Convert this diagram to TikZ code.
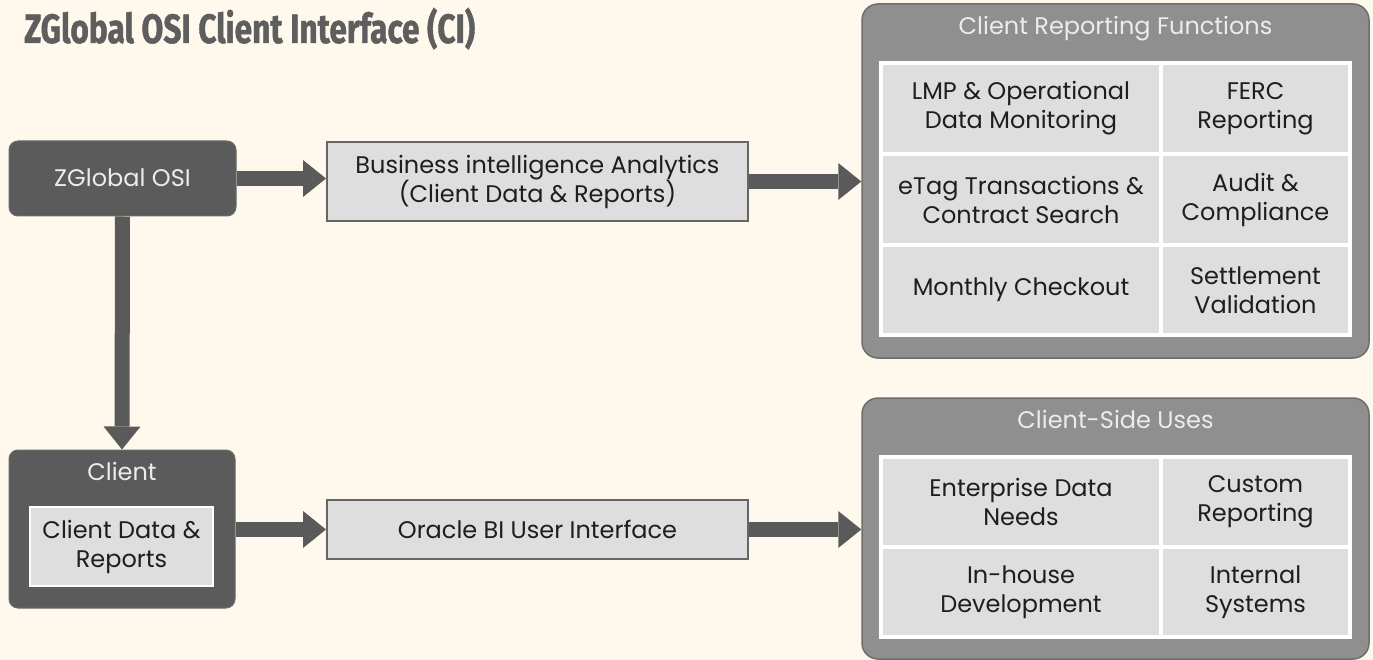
\documentclass[tikz,border=0pt]{standalone}
\usepackage{fontspec}
\setmainfont{Poppins}
\newfontfamily\titlefont[FakeBold=1.2]{Fira Sans}
\usetikzlibrary{arrows.meta,calc}
\definecolor{bg}{HTML}{FFF8ED}
\definecolor{dark}{HTML}{5B5B5B}
\definecolor{darkb}{HTML}{6A6A6A}
\definecolor{mid}{HTML}{8F8F8F}
\definecolor{midb}{HTML}{6E6E6E}
\definecolor{cellc}{HTML}{DEDEDE}
\definecolor{boxb}{HTML}{666666}
\definecolor{textc}{HTML}{1E1E1E}
\definecolor{lighttext}{HTML}{ECECEC}
\definecolor{titlec}{HTML}{5E5E5E}
\definecolor{arrowc}{HTML}{5A5A5A}
\begin{document}
\begin{tikzpicture}[x=1pt,y=-1pt,
  every node/.style={font=\fontsize{24pt}{29pt}\selectfont, inner sep=0pt, align=center},
  darkbox/.style={draw=darkb, fill=dark, rounded corners=9pt, line width=1pt},
  container/.style={draw=midb, fill=mid, rounded corners=16pt, line width=1.5pt},
  lightbox/.style={draw=boxb, fill=cellc, line width=2pt, text=textc},
  cellbox/.style={fill=cellc, text=textc},
  ltext/.style={text=lighttext, anchor=base},
  bigarrow/.style={draw=arrowc, line width=15pt, -{Triangle[length=23pt,width=37pt,line width=0pt]}}
]
\useasboundingbox[fill=bg] (0,0) rectangle (1373,660);

% title
\node[anchor=base west, text=titlec, font=\titlefont\bfseries\fontsize{41pt}{44pt}\selectfont] (title) at (24,43) {\resizebox{451pt}{\height}{ZGlobal OSI Client Interface (CI)}};

% left boxes
\node[darkbox, minimum width=227pt, minimum height=75pt] (zg) at (122.5,178.5) {};
\node[ltext] (zgt) at (122.5,187) {ZGlobal OSI};

\node[darkbox, minimum width=226pt, minimum height=158pt] (client) at (122,529) {};
\node[ltext] (clientt) at (122,480) {Client};
\node[fill=cellc, draw=white, line width=2pt, text=textc, minimum width=183pt, minimum height=79pt] (inner) at (121.5,546.5) {Client Data \&\\Reports};

% middle boxes
\node[lightbox, minimum width=421pt, minimum height=79pt] (bi) at (537.5,181.5) {Business intelligence Analytics\\(Client Data \& Reports)};
\node[lightbox, minimum width=421pt, minimum height=59pt] (oracle) at (537.5,529.5) {Oracle BI User Interface};

% containers
\node[container, minimum width=507pt, minimum height=354pt] (c1) at (1115.5,181) {};
\node[ltext] (c1t) at (1115.5,35) {Client Reporting Functions};
\fill[white] (879,61) rectangle (1352,337);
\node[cellbox, minimum width=276pt, minimum height=87pt] (f11) at (1021,108.5) {LMP \& Operational\\Data Monitoring};
\node[cellbox, minimum width=185pt, minimum height=87pt] (f12) at (1255.5,108.5) {FERC\\Reporting};
\node[cellbox, minimum width=276pt, minimum height=87pt] (f21) at (1021,199.5) {eTag Transactions \&\\Contract Search};
\node[cellbox, minimum width=185pt, minimum height=87pt] (f22) at (1255.5,199.5) {Audit \&\\Compliance};
\node[cellbox, minimum width=276pt, minimum height=86pt] (f31) at (1021,290) {Monthly Checkout};
\node[cellbox, minimum width=185pt, minimum height=86pt] (f32) at (1255.5,290) {Settlement\\Validation};

\node[container, minimum width=507pt, minimum height=261pt] (c2) at (1115.5,528.5) {};
\node[ltext] (c2t) at (1115.5,428) {Client-Side Uses};
\fill[white] (879,455) rectangle (1352,639);
\node[cellbox, minimum width=276pt, minimum height=86pt] (u11) at (1021,502) {Enterprise Data\\Needs};
\node[cellbox, minimum width=185pt, minimum height=86pt] (u12) at (1255.5,502) {Custom\\Reporting};
\node[cellbox, minimum width=276pt, minimum height=86pt] (u21) at (1021,592) {In-house\\Development};
\node[cellbox, minimum width=185pt, minimum height=86pt] (u22) at (1255.5,592) {Internal\\Systems};

% arrows
\draw[bigarrow] (zg.east) -- (zg.east -| bi.west);
\draw[bigarrow] (bi.east) -- (bi.east -| c1.west);
\draw[bigarrow] (zg.south) -- (client.north);
\draw[bigarrow] (client.east |- oracle.west) -- (oracle.west);
\draw[bigarrow] (oracle.east) -- (oracle.east -| c2.west);
\end{tikzpicture}
\end{document}
